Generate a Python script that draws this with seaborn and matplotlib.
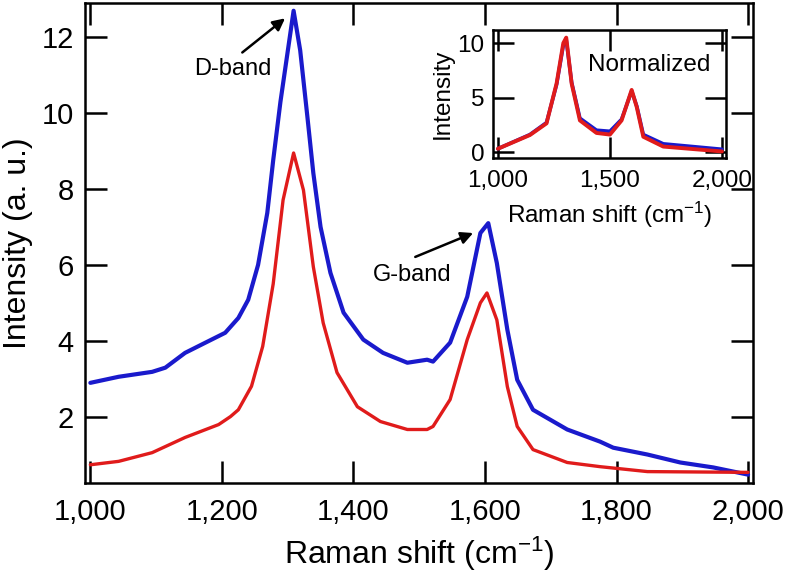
import matplotlib
matplotlib.use("Agg")
import matplotlib.pyplot as plt
import seaborn as sns
import pandas as pd

# Espectro principal
blue_x = [1000, 1043, 1094, 1114, 1144, 1175, 1205, 1225, 1240, 1255, 1269, 1278,
          1289, 1309, 1319, 1330, 1339, 1350, 1365, 1385, 1415, 1445, 1482, 1512,
          1521, 1547, 1573, 1593, 1605, 1618, 1634, 1649, 1673, 1725, 1775, 1795,
          1847, 1897, 1947, 2000]
blue_y = [2.89, 3.05, 3.18, 3.29, 3.68, 3.95, 4.21, 4.6, 5.08, 6.0, 7.37, 8.76,
          10.3, 12.7, 11.66, 9.9, 8.42, 7.0, 5.79, 4.74, 4.03, 3.68, 3.42, 3.5,
          3.45, 3.95, 5.16, 6.84, 7.1, 6.05, 4.29, 2.97, 2.18, 1.66, 1.34, 1.18,
          1.0, 0.79, 0.66, 0.47]

red_x = [1000, 1043, 1094, 1144, 1195, 1213, 1225, 1245, 1262, 1278, 1293, 1309,
         1324, 1339, 1354, 1375, 1406, 1441, 1482, 1512, 1521, 1547, 1573, 1593,
         1603, 1618, 1634, 1649, 1673, 1725, 1775, 1847, 2000]
red_y = [0.73, 0.82, 1.05, 1.45, 1.79, 2.0, 2.18, 2.8, 3.85, 5.5, 7.71, 8.95,
         7.97, 5.95, 4.47, 3.16, 2.26, 1.87, 1.66, 1.66, 1.74, 2.45, 4.03, 5.0,
         5.26, 4.55, 2.79, 1.74, 1.13, 0.79, 0.68, 0.55, 0.53]

# Inset normalizado
inset_x = [1000, 1143, 1217, 1262, 1292, 1305, 1329, 1366, 1440, 1500, 1552,
           1597, 1620, 1649, 1738, 2000]
inset_red = [0.3, 1.56, 2.63, 6.3, 10.0, 10.5, 6.3, 2.9, 1.75, 1.6, 2.9,
             5.7, 4.1, 1.4, 0.5, 0.05]
inset_blue = [0.3, 1.6, 2.7, 6.2, 9.8, 10.3, 6.4, 3.1, 2.0, 1.9, 3.0,
              5.6, 4.2, 1.6, 0.75, 0.25]

x_ticks = [1000, 1200, 1400, 1600, 1800, 2000]
y_ticks = [2, 4, 6, 8, 10, 12]
inset_x_ticks = [1000, 1500, 2000]
inset_y_ticks = [0, 5, 10]

BLUE = '#1a1acc'
RED = '#e01b1b'

sns.set_style("ticks")
plt.rcParams['font.family'] = ['Liberation Sans', 'DejaVu Sans']
plt.rcParams['mathtext.default'] = 'regular'
plt.rcParams['text.color'] = 'black'
plt.rcParams['axes.labelcolor'] = 'black'


def fmt_miles(v):
    return f'{int(v):,}'


def estilo_ejes(ax, size, xpad, ypad):
    for s in ax.spines.values():
        s.set_linewidth(1.8)
        s.set_color('black')
    ax.tick_params(direction='in', length=16, width=1.8, top=True, right=True,
                   labelsize=size, colors='black')
    ax.tick_params(axis='x', pad=xpad)
    ax.tick_params(axis='y', pad=ypad)


fig = plt.figure(figsize=(7.88, 5.76), dpi=100)
ax = fig.add_axes([0.108, 0.1615, 0.848, 0.833])

df_b = pd.DataFrame({'x': blue_x, 'y': blue_y})
df_r = pd.DataFrame({'x': red_x, 'y': red_y})
sns.lineplot(data=df_b, x='x', y='y', ax=ax, color=BLUE, linewidth=3.0, errorbar=None)
sns.lineplot(data=df_r, x='x', y='y', ax=ax, color=RED, linewidth=2.4, errorbar=None)

ax.set_xlim(992, 2008)
ax.set_ylim(0.25, 12.9)
ax.set_xticks(x_ticks)
ax.set_xticklabels([fmt_miles(v) for v in x_ticks])
ax.set_yticks(y_ticks)
ax.set_yticklabels([str(v) for v in y_ticks])
estilo_ejes(ax, 21, 11, 8)
ax.set_xlabel(r'Raman shift (cm$^{-1}$)', fontsize=23, labelpad=6)
ax.set_ylabel('Intensity (a. u.)', fontsize=23, labelpad=6)

# Anotaciones
ax.text(1217, 11.16, 'D-band', fontsize=17, ha='center', va='center')
ax.annotate('', xy=(1296, 12.5), xytext=(1231, 11.6),
            arrowprops=dict(arrowstyle='-|>', color='black', lw=1.8,
                            mutation_scale=18, shrinkA=0, shrinkB=0))
ax.text(1489, 5.74, 'G-band', fontsize=17, ha='center', va='center')
ax.annotate('', xy=(1582, 6.84), xytext=(1494, 6.21),
            arrowprops=dict(arrowstyle='-|>', color='black', lw=1.8,
                            mutation_scale=18, shrinkA=0, shrinkB=0))

# Inset
axi = fig.add_axes([0.6256, 0.7257, 0.2957, 0.2222])
df_ib = pd.DataFrame({'x': inset_x, 'y': inset_blue})
df_ir = pd.DataFrame({'x': inset_x, 'y': inset_red})
sns.lineplot(data=df_ib, x='x', y='y', ax=axi, color=BLUE, linewidth=2.6, errorbar=None)
sns.lineplot(data=df_ir, x='x', y='y', ax=axi, color=RED, linewidth=2.8, errorbar=None)
axi.set_xlim(978, 2018)
axi.set_ylim(-0.55, 11.2)
axi.set_xticks(inset_x_ticks)
axi.set_xticklabels([fmt_miles(v) for v in inset_x_ticks])
axi.set_yticks(inset_y_ticks)
axi.set_yticklabels([str(v) for v in inset_y_ticks])
estilo_ejes(axi, 17.5, 9, 6)
axi.tick_params(length=15)
axi.set_xlabel(r'Raman shift (cm$^{-1}$)', fontsize=17.5, labelpad=5)
axi.set_ylabel('Intensity', fontsize=17.5, labelpad=3)
axi.text(1674, 8.0, 'Normalized', fontsize=17.5, ha='center', va='center')

fig.savefig('out.png', dpi=100)
